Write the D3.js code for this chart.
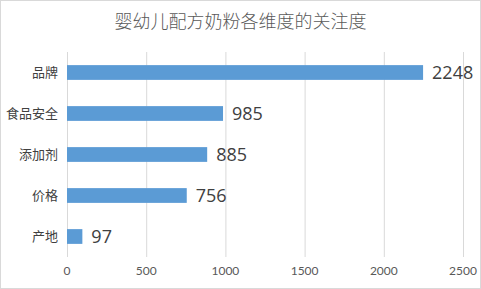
<!DOCTYPE html>
<html>
<head>
<meta charset="utf-8">
<script src="https://cdn.jsdelivr.net/npm/d3@7"></script>
<style>
  body { margin: 0; background: #fff; }
  svg { display: block; }
</style>
</head>
<body>
<svg id="chart" width="481" height="289"></svg>
<script>
// data
const categories = ["品牌", "食品安全", "添加剂", "价格", "产地"];
const values = [2248, 985, 885, 756, 97];
const xTicks = [0, 500, 1000, 1500, 2000, 2500];
const title = "婴幼儿配方奶粉各维度的关注度";

const width = 481, height = 289;
const margin = { top: 52, right: 18, bottom: 32, left: 67 };
const innerW = width - margin.left - margin.right;
const innerH = height - margin.top - margin.bottom;

const svg = d3.select("#chart");

// chart border
svg.append("rect")
    .attr("x", 0.5).attr("y", 0.5)
    .attr("width", width - 1).attr("height", height - 1)
    .attr("fill", "#fff")
    .attr("stroke", "#d9d9d9");

svg.append("text")
    .attr("x", width / 2)
    .attr("y", 28)
    .attr("text-anchor", "middle")
    .style("font-family", "'Noto Sans CJK SC', sans-serif")
    .style("font-weight", 300)
    .style("font-size", "18px")
    .style("fill", "#595959")
    .text(title);

const x = d3.scaleLinear().domain([0, 2500]).range([0, 396]);
const y = d3.scaleBand().domain(categories).range([0, innerH]).paddingInner(0.64).paddingOuter(0.32);

const g = svg.append("g").attr("transform", `translate(${margin.left},${margin.top})`);

// gridlines
g.selectAll(".grid")
    .data(xTicks)
    .enter()
    .append("line")
    .attr("class", "grid")
    .attr("x1", d => x(d) + 0.5)
    .attr("x2", d => x(d) + 0.5)
    .attr("y1", 0)
    .attr("y2", innerH)
    .style("stroke", "#d9d9d9")
    .style("stroke-width", 1);

// x tick labels
g.selectAll(".xlab")
    .data(xTicks)
    .enter()
    .append("text")
    .attr("class", "xlab")
    .attr("x", d => x(d))
    .attr("y", innerH + 18)
    .attr("text-anchor", "middle")
    .style("font-family", "Lato, 'Noto Sans', sans-serif")
    .style("font-size", "12px")
    .style("fill", "#595959")
    .text(d => d);

// bars
g.selectAll(".bar")
    .data(values)
    .enter()
    .append("rect")
    .attr("class", "bar")
    .attr("x", 0)
    .attr("y", (d, i) => y(categories[i]))
    .attr("width", d => x(d))
    .attr("height", y.bandwidth())
    .style("fill", "#5b9bd5");

// category labels
g.selectAll(".ylab")
    .data(categories)
    .enter()
    .append("text")
    .attr("class", "ylab")
    .attr("x", -9)
    .attr("y", d => y(d) + y.bandwidth() / 2)
    .attr("dy", "0.35em")
    .attr("text-anchor", "end")
    .style("font-family", "'Noto Sans CJK SC', sans-serif")
    .style("font-size", "13px")
    .style("fill", "#404040")
    .text(d => d);

// value labels
g.selectAll(".val")
    .data(values)
    .enter()
    .append("text")
    .attr("class", "val")
    .attr("x", d => x(d) + 9)
    .attr("y", (d, i) => y(categories[i]) + y.bandwidth() / 2)
    .attr("dy", "0.36em")
    .style("font-family", "'Open Sans', 'Noto Sans', sans-serif")
    .style("font-size", "18px")
    .style("fill", "#404040")
    .text(d => d);
</script>
</body>
</html>
